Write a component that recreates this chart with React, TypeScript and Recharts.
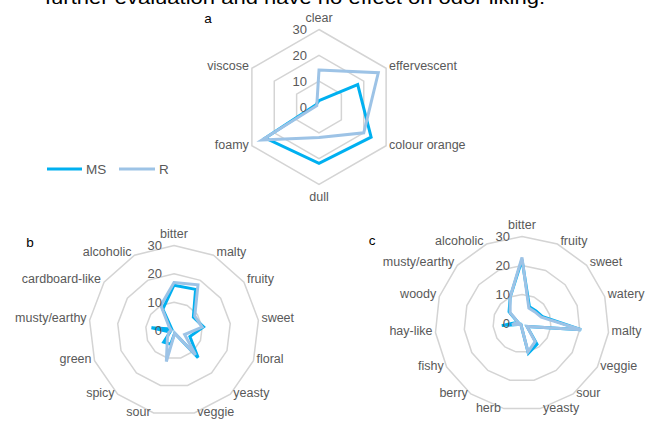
import React from 'react';
import { RadarChart, Radar, PolarGrid, PolarAngleAxis, PolarRadiusAxis } from 'recharts';

const seriesNames = ['MS', 'R'];
const seriesColors = ['#00B0F0', '#9DC3E6'];
const radiusTicks = [0, 10, 20, 30];

const aAxes = ['clear', 'effervescent', 'colour orange', 'dull', 'foamy', 'viscose'];
const aMS = [2.5, 17.3, 23.3, 21.8, 24, 1.5];
const aR = [14.3, 26.5, 20, 11.8, 25.5, 1];

const bAxes = ['bitter', 'malty', 'fruity', 'sweet', 'floral', 'yeasty', 'veggie', 'sour', 'spicy', 'green', 'musty/earthy', 'cardboard-like', 'alcoholic'];
const bMS = [16, 16.4, 8.3, 10.5, 6, 12.8, 1, 5, 5.5, 1.5, 8, 1, 8.5];
const bR = [16.9, 18.2, 8.9, 10, 4, 11.5, 1, 11.3, 3.5, 2, 1, 2, 10];

const cAxes = ['bitter', 'fruity', 'sweet', 'watery', 'malty', 'veggie', 'sour', 'yeasty', 'herb', 'berry', 'fishy', 'hay-like', 'woody', 'musty/earthy', 'alcoholic'];
const cMS = [22, 6.3, 6.5, 7.5, 20.5, 2, 8.8, 10.5, 1, 0.5, 0.5, 7, 1.5, 6, 10];
const cR = [22.8, 5.8, 6, 7, 20.5, 2, 7.7, 10, 1, 0.5, 0.5, 3.5, 1.5, 5.5, 10];

const topText = 'further evaluation and have no effect on odor liking.';

const FONT = '"Liberation Sans", Arial, sans-serif';
const GREY = '#595959';

function build(axes: string[], ms: number[], r: number[]) {
  return axes.map((axis, i) => ({ axis, MS: ms[i], R: r[i] }));
}

function makeAngleTick(cx: number, cy: number, R: number, n: number) {
  return (props: any) => {
    const { payload, index } = props;
    const i = typeof index === 'number' ? index : payload.index;
    const theta = (i * 2 * Math.PI) / n;
    const s = Math.sin(theta);
    const c = Math.cos(theta);
    const vx = cx + R * s;
    const vy = cy - R * c;
    let anchor = 'middle';
    let tx = vx;
    let ty = vy;
    if (Math.abs(s) < 0.05) {
      ty = vy - c * 12;
    } else {
      anchor = s > 0 ? 'start' : 'end';
      tx = vx + (s > 0 ? 3 : -3);
      ty = vy - 2 - 1.5 * c;
    }
    return (
      <text x={tx} y={ty} textAnchor={anchor} dominantBaseline="central" fill={GREY} fontSize={12.5} fontFamily={FONT}>
        {payload.value}
      </text>
    );
  };
}

const radiusTick = (props: any) => {
  const { x, y, payload } = props;
  return (
    <text x={x - 12} y={y} textAnchor="end" dominantBaseline="central" fill={GREY} fontSize={13} fontFamily={FONT}>
      {payload.value}
    </text>
  );
};

function Spider(props: { left: number; top: number; w: number; h: number; cx: number; cy: number; R: number; axes: string[]; ms: number[]; r: number[] }) {
  const { left, top, w, h, cx, cy, R, axes, ms, r } = props;
  const data = build(axes, ms, r);
  return (
    <div style={{ position: 'absolute', left, top, width: w, height: h }}>
      <RadarChart width={w} height={h} data={data} cx={cx} cy={cy} outerRadius={R} margin={{ top: 0, right: 0, bottom: 0, left: 0 }}>
        <PolarGrid gridType="polygon" radialLines={false} stroke="#D4D4D4" strokeWidth={1.5} />
        <PolarAngleAxis dataKey="axis" tick={makeAngleTick(cx, cy, R, axes.length)} tickLine={false} axisLine={false} />
        <PolarRadiusAxis angle={90} domain={[0, 30]} ticks={radiusTicks as any} tickCount={4} axisLine={false} tick={radiusTick} />
        <Radar name={seriesNames[0]} dataKey="MS" stroke={seriesColors[0]} strokeWidth={3} fill="none" fillOpacity={0} dot={false} isAnimationActive={false} />
        <Radar name={seriesNames[1]} dataKey="R" stroke={seriesColors[1]} strokeWidth={3} fill="none" fillOpacity={0} dot={false} isAnimationActive={false} />
      </RadarChart>
    </div>
  );
}

export default function App() {
  return (
    <div style={{ position: 'fixed', left: 0, top: 0, width: 655, height: 421, background: '#fff', overflow: 'hidden' }}>
      <Spider left={190} top={0} w={290} h={215} cx={129} cy={107} R={77.5} axes={aAxes} ms={aMS} r={aR} />
      <Spider left={0} top={215} w={330} h={206} cx={174} cy={115.5} R={85} axes={bAxes} ms={bMS} r={bR} />
      <Spider left={330} top={215} w={325} h={206} cx={192} cy={108.5} R={87} axes={cAxes} ms={cMS} r={cR} />
      <svg width={655} height={421} style={{ position: 'absolute', left: 0, top: 0, pointerEvents: 'none' }}>
        <text x={45} y={4} fontSize={19} fontFamily={FONT} fill="#000" textLength={500} lengthAdjust="spacingAndGlyphs">{topText}</text>
        <text x={208} y={18} fontSize={13.5} fontFamily={FONT} fill="#000" textAnchor="middle" dominantBaseline="central">a</text>
        <text x={30} y={242} fontSize={13.5} fontFamily={FONT} fill="#000" textAnchor="middle" dominantBaseline="central">b</text>
        <text x={372} y={240} fontSize={13.5} fontFamily={FONT} fill="#000" textAnchor="middle" dominantBaseline="central">c</text>
        <line x1={47} y1={169} x2={82} y2={169} stroke={seriesColors[0]} strokeWidth={3} />
        <text x={86} y={169} fontSize={13.5} fontFamily={FONT} fill={GREY} dominantBaseline="central">{seriesNames[0]}</text>
        <line x1={119} y1={169} x2={155} y2={169} stroke={seriesColors[1]} strokeWidth={3} />
        <text x={159} y={169} fontSize={13.5} fontFamily={FONT} fill={GREY} dominantBaseline="central">{seriesNames[1]}</text>
      </svg>
    </div>
  );
}
